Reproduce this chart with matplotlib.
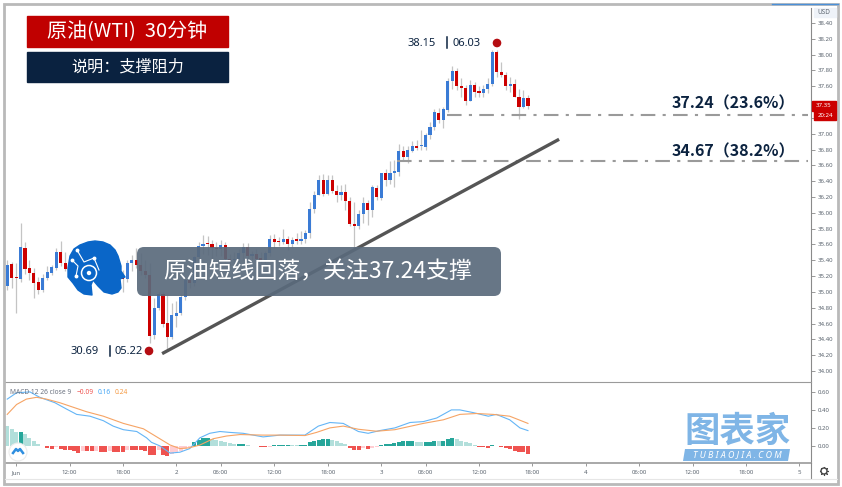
# -*- coding: utf-8 -*-
import numpy as np
import matplotlib
matplotlib.use('Agg')
import matplotlib.pyplot as plt
from matplotlib.patches import Circle, FancyBboxPatch, Polygon, Rectangle

plt.rcParams['font.family'] = ['Noto Sans CJK SC', 'DejaVu Sans']

W, H = 842, 487

# open, high, low, close per 30 minute bar
opens = [35.08, 35.35, 35.18, 35.16, 35.56, 35.30, 35.24, 35.13, 35.03, 35.17, 35.24, 35.30, 35.50, 35.36,
         35.29, 35.27, 35.23, 35.21, 35.32, 35.40, 35.48, 35.42, 35.36, 35.40, 35.30, 35.25, 35.17, 35.16,
         35.37, 35.40, 35.34, 35.26, 35.21, 34.45, 34.80, 34.97, 34.61, 34.43, 34.70, 34.73, 34.94, 35.15,
         35.11, 35.44, 35.58, 35.62, 35.61, 35.55, 35.54, 35.59, 35.42, 35.40, 35.42, 35.49, 35.57, 35.45,
         35.48, 35.42, 35.41, 35.49, 35.67, 35.64, 35.63, 35.67, 35.61, 35.66, 35.65, 35.67, 35.74, 36.05,
         36.23, 36.42, 36.24, 36.42, 36.28, 36.23, 36.26, 36.15, 35.86, 35.83, 35.99, 36.13, 36.03, 36.32,
         36.19, 36.50, 36.42, 36.51, 36.52, 36.78, 36.71, 36.78, 36.85, 36.84, 36.83, 36.98, 37.08, 37.26,
         37.18, 37.30, 37.67, 37.79, 37.61, 37.58, 37.42, 37.62, 37.53, 37.52, 37.56, 37.63, 38.03, 37.78,
         37.74, 37.60, 37.63, 37.47, 37.34, 37.45]
highs = [35.41, 35.38, 35.36, 35.87, 35.63, 35.41, 35.30, 35.19, 35.23, 35.33, 35.34, 35.55, 35.64, 35.51,
         35.40, 35.34, 35.30, 35.35, 35.45, 35.52, 35.55, 35.50, 35.44, 35.46, 35.38, 35.30, 35.28, 35.40,
         35.47, 35.55, 35.49, 35.40, 35.36, 34.92, 35.00, 35.00, 34.96, 34.86, 34.88, 34.98, 35.20, 35.25,
         35.45, 35.63, 35.72, 35.71, 35.66, 35.63, 35.66, 35.63, 35.48, 35.50, 35.54, 35.62, 35.62, 35.52,
         35.54, 35.50, 35.52, 35.72, 35.73, 35.70, 35.79, 35.71, 35.70, 35.75, 35.77, 35.78, 36.14, 36.27,
         36.48, 36.49, 36.48, 36.48, 36.35, 36.35, 36.37, 36.20, 36.14, 36.04, 36.20, 36.16, 36.35, 36.35,
         36.51, 36.56, 36.65, 36.67, 36.87, 36.85, 36.85, 36.91, 36.92, 37.05, 37.01, 37.15, 37.31, 37.32,
         37.34, 37.70, 37.86, 37.83, 37.70, 37.62, 37.68, 37.66, 37.60, 37.62, 37.70, 38.06, 38.06, 37.91,
         37.78, 37.72, 37.69, 37.57, 37.55, 37.49]
lows = [35.02, 35.05, 34.73, 35.13, 35.23, 35.15, 34.92, 34.97, 35.00, 35.15, 35.21, 35.28, 35.33, 35.26,
        35.24, 35.20, 35.16, 35.18, 35.28, 35.36, 35.38, 35.32, 35.28, 35.25, 35.20, 35.10, 35.00, 35.13,
        35.26, 35.30, 35.22, 35.18, 34.35, 34.41, 34.77, 34.56, 34.27, 34.41, 34.56, 34.71, 34.90, 35.05,
        35.08, 35.36, 35.48, 35.47, 35.40, 35.45, 35.45, 35.38, 35.33, 35.35, 35.35, 35.40, 35.42, 35.40,
        35.38, 35.37, 35.36, 35.46, 35.55, 35.58, 35.60, 35.53, 35.55, 35.60, 35.60, 35.62, 35.68, 36.00,
        36.22, 36.21, 36.22, 36.25, 36.14, 36.16, 36.03, 35.83, 35.55, 35.79, 35.87, 35.85, 35.95, 36.16,
        36.16, 36.34, 36.37, 36.33, 36.46, 36.65, 36.63, 36.77, 36.80, 36.79, 36.80, 36.94, 37.05, 37.13,
        37.07, 37.28, 37.57, 37.55, 37.47, 37.36, 37.41, 37.47, 37.46, 37.47, 37.51, 37.60, 37.72, 37.72,
        37.55, 37.53, 37.47, 37.19, 37.32, 37.31]
closes = [35.34, 35.17, 35.17, 35.57, 35.29, 35.24, 35.11, 35.03, 35.18, 35.25, 35.31, 35.51, 35.36, 35.29,
          35.27, 35.23, 35.21, 35.32, 35.40, 35.48, 35.42, 35.36, 35.40, 35.30, 35.25, 35.17, 35.16, 35.37,
          35.40, 35.34, 35.26, 35.21, 34.44, 34.80, 34.97, 34.60, 34.43, 34.71, 34.74, 34.94, 35.15, 35.11,
          35.44, 35.58, 35.61, 35.61, 35.55, 35.54, 35.59, 35.42, 35.39, 35.42, 35.49, 35.57, 35.45, 35.48,
          35.42, 35.41, 35.49, 35.67, 35.63, 35.63, 35.67, 35.61, 35.66, 35.65, 35.67, 35.74, 36.05, 36.23,
          36.42, 36.24, 36.42, 36.28, 36.23, 36.26, 36.15, 35.86, 35.83, 35.99, 36.13, 36.03, 36.33, 36.20,
          36.51, 36.42, 36.51, 36.53, 36.78, 36.71, 36.80, 36.85, 36.82, 36.85, 36.98, 37.08, 37.27, 37.18,
          37.31, 37.67, 37.79, 37.60, 37.58, 37.42, 37.62, 37.53, 37.52, 37.57, 37.63, 38.03, 37.78, 37.74,
          37.60, 37.63, 37.47, 37.34, 37.45, 37.35]

macd_hist = [0.22, 0.19, 0.16, 0.16, 0.13, 0.09, 0.06, 0.02, -0.005, -0.02, -0.03, -0.01, -0.03, -0.04,
             -0.05, -0.06, -0.075, -0.06, -0.06, -0.06, -0.055, -0.065, -0.065, -0.055, -0.07, -0.07, -0.07,
             -0.05, -0.05, -0.05, -0.05, -0.055, -0.10, -0.105, -0.05, -0.10, -0.115, -0.09, -0.07, -0.055,
             -0.03, -0.01, 0.04, 0.07, 0.09, 0.09, 0.08, 0.07, 0.06, 0.045, 0.03, 0.02, 0.02, 0.025, 0.015,
             0.002, -0.005, -0.01, -0.015, -0.01, 0.005, 0.01, 0.01, 0.012, 0.01, 0.005, 0.005, 0.01, 0.04,
             0.055, 0.07, 0.075, 0.08, 0.065, 0.055, 0.035, 0.02, -0.02, -0.04, -0.045, -0.025, -0.035, -0.02,
             -0.015, 0.01, 0.02, 0.025, 0.035, 0.045, 0.05, 0.05, 0.05, 0.045, 0.04, 0.045, 0.045, 0.06, 0.055,
             0.06, 0.08, 0.085, 0.075, 0.06, 0.045, 0.03, 0.01, -0.01, -0.015, -0.02, 0.01, -0.005, -0.01,
             -0.025, -0.035, -0.055, -0.065, -0.07, -0.085]

macd_idx = [0, 2.1, 5.1, 7.3, 10.7, 13.3, 15.6, 18.6, 21.6, 23.8, 26.1, 29.1, 31.3, 32.4, 34.3, 36.6, 38.8,
            41, 43.3, 45.5, 47.8, 50, 53, 57.5, 61.3, 66.9, 69.9, 72.5, 75.5, 78.9, 81.1, 83.7, 87.1, 90.5,
            93.5, 96.5, 99.8, 101.7, 104.7, 108.1, 109.9, 112.9, 115.2, 117]
macd_line = [0.52, 0.59, 0.60, 0.54, 0.48, 0.41, 0.35, 0.33, 0.28, 0.22, 0.18, 0.16, 0.09, 0.04, 0.0, -0.08,
             -0.07, -0.03, 0.09, 0.14, 0.16, 0.15, 0.14, 0.10, 0.12, 0.12, 0.22, 0.26, 0.25, 0.16, 0.14, 0.17,
             0.20, 0.26, 0.27, 0.31, 0.40, 0.40, 0.37, 0.33, 0.35, 0.29, 0.20, 0.17]
signal_idx = [0, 2.1, 4.3, 6.6, 8.8, 11.8, 14.8, 17.8, 21.6, 26.1, 30.6, 33.6, 36.6, 38.8, 41, 43.3, 46.3, 49.3,
              52.3, 57.5, 61.3, 66.9, 69.5, 72.5, 75.5, 78.9, 83, 87.1, 93.5, 98, 101.7, 105.5, 109.2, 112.9, 117]
signal_line = [0.35, 0.46, 0.52, 0.54, 0.52, 0.48, 0.43, 0.38, 0.33, 0.25, 0.19, 0.10, 0.01, -0.03, -0.02, 0.01,
               0.08, 0.11, 0.126, 0.12, 0.12, 0.115, 0.15, 0.20, 0.22, 0.185, 0.163, 0.18, 0.25, 0.29, 0.35,
               0.36, 0.35, 0.33, 0.25]

time_ticks = [2, 14, 26, 38, 48, 60, 72, 84, 94, 106, 118, 130, 142, 154, 166, 178]
time_labels = ['Jun', '12:00', '18:00', '2', '06:00', '12:00', '18:00', '3', '06:00', '12:00', '18:00',
               '4', '06:00', '12:00', '18:00', '5']
price_ticks = np.arange(34.0, 38.5, 0.2)
hidden_ticks = ['37.40', '37.20']  # covered by the price tags
macd_ticks = [0.0, 0.2, 0.4, 0.6]

trend_x = [34.8, 124.0]
trend_y = [34.22, 36.93]
level_x = [[98.8, 180.0], [87.6, 180.0]]
level_y = [37.24, 36.66]
level_text = ['37.24（23.6%）', '34.67（38.2%）']

BLUE = '#3a7bd5'
RED = '#cc0000'
TICK = '#5d6670'
NAVY = '#0c2340'


def px_axes(fig, left, top, right, bottom):
    return fig.add_axes([left / W, 1 - bottom / H, (right - left) / W, (bottom - top) / H])


fig = plt.figure(figsize=(W / 100, H / 100), dpi=100)

x0 = -0.5
x1 = 180.6

# price pane
ax = px_axes(fig, 5, 8, 811, 381)
ax.set_xlim(x0, x1)
ax.set_ylim(33.874, 38.59)
idx = np.arange(len(opens))
o = np.array(opens)
c = np.array(closes)
colors = [BLUE if cl >= op else RED for op, cl in zip(opens, closes)]
ax.vlines(idx, lows, highs, color='#c4c4c4', lw=0.9, zorder=2)
ax.bar(idx, np.maximum(np.abs(c - o), 0.015), bottom=np.minimum(o, c), width=0.7, color=colors, zorder=3)
ax.plot(trend_x, trend_y, color='#555555', lw=2.4, solid_capstyle='butt', zorder=6)
for xs, lev in zip(level_x, level_y):
    ax.plot(xs, [lev, lev], color='#9a9a9a', lw=1.5, ls=(0, (7, 3.5, 1.5, 3.5)), zorder=4)
ax.set_xticks([])
ax.set_yticks(price_ticks)
price_labels = [f'{t:.2f}' for t in price_ticks]
price_labels = ['' if t in hidden_ticks else t for t in price_labels]
ax.set_yticklabels(price_labels, fontsize=4.4, color=TICK, family=['Noto Sans'])
ax.yaxis.tick_right()
ax.tick_params(axis='y', length=3, width=0.6, color='#888888', pad=1.5)
for s in ['top', 'left', 'bottom']:
    ax.spines[s].set_visible(False)
ax.spines['right'].set_color('#8a8a8a')

# macd pane
ax2 = px_axes(fig, 5, 382, 811, 463)
ax2.set_xlim(x0, x1)
ax2.set_ylim(-0.19, 0.71)
hist_colors = []
prev = 1
for v in macd_hist:
    if v >= 0:
        hist_colors.append('#26a69a' if v >= prev else '#b2dfdb')
    else:
        hist_colors.append('#ef5350' if v <= prev else '#ffcdd2')
    prev = v
ax2.bar(np.arange(len(macd_hist)), macd_hist, width=0.9, color=hist_colors, zorder=2)
ax2.plot(macd_idx, macd_line, color='#64b5f6', lw=0.8, zorder=3)
ax2.plot(signal_idx, signal_line, color='#f6a465', lw=0.8, zorder=3)
ax2.set_xticks(time_ticks)
ax2.set_xticklabels(time_labels, fontsize=4.4, color=TICK, family=['Noto Sans'])
ax2.set_yticks(macd_ticks)
ax2.set_yticklabels([f'{t:.2f}' for t in macd_ticks], fontsize=4.4, color=TICK, family=['Noto Sans'])
ax2.yaxis.tick_right()
ax2.tick_params(axis='y', length=3, width=0.6, color='#888888', pad=1.5)
ax2.tick_params(axis='x', length=2, width=0.6, color='#888888', pad=3)
ax2.spines['left'].set_visible(False)
ax2.spines['right'].set_color('#8a8a8a')
ax2.spines['top'].set_color('#9a9a9a')
ax2.spines['bottom'].set_color('#9a9a9a')
ax2.spines['bottom'].set_linewidth(1.2)

# everything drawn on top of the chart, in pixels
top = fig.add_axes([0, 0, 1, 1], facecolor='none')
top.set_xlim(0, W)
top.set_ylim(H, 0)
top.axis('off')

# outer frame
top.add_patch(Rectangle((3.5, 3.5), 834, 480, fill=False, ec='#b9b9b9', lw=2.0))
top.plot([772, 838], [3.5, 3.5], color='#4a90d9', lw=1.0)
top.plot([811, 811], [463, 478], color='#8a8a8a', lw=0.8)
top.plot([5, 837], [478.5, 478.5], color='#e6e6e6', lw=0.8)

# title boxes
top.add_patch(Rectangle((27, 16), 201, 31, color='#c00000'))
top.text(127, 31.5, '原油(WTI)  30分钟', color='white', fontsize=14.4, ha='center', va='center')
top.add_patch(Rectangle((27, 52), 201, 30, color='#0a2240'))
top.text(128, 67, '说明：支撑阻力', color='white', fontsize=11.6, ha='center', va='center')

# comment box
top.add_patch(FancyBboxPatch((143, 253), 352, 37, boxstyle='round,pad=6,rounding_size=7',
                             fc='#5a6a7c', ec='none', alpha=0.92))
top.text(318, 272, '原油短线回落，关注37.24支撑', color='white', fontsize=16.5, ha='center', va='center')

# high and low markers
top.add_patch(Circle((149, 351), 3.6, color='#b50d12', zorder=8))
top.add_patch(Circle((497, 43), 3.6, color='#b50d12', zorder=8))
top.text(84.5, 351, '30.69', color=NAVY, fontsize=8, ha='center', va='center', family=['Noto Sans'])
top.plot([110, 110], [346, 356], color=NAVY, lw=1.1)
top.text(129, 351, '05.22', color=NAVY, fontsize=8, ha='center', va='center', family=['Noto Sans'])
top.text(421.5, 43, '38.15', color=NAVY, fontsize=8, ha='center', va='center', family=['Noto Sans'])
top.plot([447, 447], [37, 48], color=NAVY, lw=1.1)
top.text(466.5, 43, '06.03', color=NAVY, fontsize=8, ha='center', va='center', family=['Noto Sans'])

# level labels
for yy, txt in zip([103, 151], level_text):
    top.text(733, yy, txt, color=NAVY, fontsize=11.5, fontweight='bold', ha='center', va='center')

# head logo
head = [(68, 268), (70, 256), (74, 249), (80, 245), (88, 242), (95, 241), (103, 242), (110, 245), (115, 250),
        (118, 256), (121, 266), (121, 271), (125, 277), (120, 279), (121, 288), (118, 292), (112, 294), (104, 292),
        (98, 286), (93, 280), (91, 285), (92, 295), (84, 294), (78, 290), (73, 283), (68, 277)]
top.add_patch(Polygon(head, closed=True, fc='#0a66c8', ec='#0a66c8', lw=1, joinstyle='round', zorder=7))
top.add_patch(Circle((89, 273), 7.5, fc='none', ec='white', lw=1.1, zorder=8))
top.add_patch(Circle((89, 273), 2.2, fc='white', ec='none', zorder=8))
top.plot([77, 84, 94, 99], [250, 262, 258, 270], color='white', lw=0.8, zorder=8)
top.plot([72, 78, 76], [260, 266, 276], color='white', lw=0.8, zorder=8)
top.plot([77, 72, 76, 94], [250, 260, 276, 258], 'o', color='white', ms=1.8, zorder=8)

# macd legend
top.text(10, 392, 'MACD 12 26 close 9', color='#6b7280', fontsize=4.8, va='center', family=['Noto Sans'])
top.text(77, 392, '\u22120.09', color='#ef5350', fontsize=4.8, va='center', family=['Noto Sans'])
top.text(98, 392, '0.16', color='#42a5f5', fontsize=4.8, va='center', family=['Noto Sans'])
top.text(115, 392, '0.24', color='#f59b45', fontsize=4.8, va='center', family=['Noto Sans'])

# cloud badge
top.add_patch(Circle((18, 452), 9, fc='white', ec='#ececec', lw=0.8, zorder=8))
top.plot([13, 16, 18, 20, 23], [453, 449, 451, 449, 453], color='#2f8fe0', lw=1.8, zorder=9)

# price tags
top.add_patch(Rectangle((812, 101), 24, 9.5, color='#cc0000', zorder=8))
top.text(824, 105.8, '37.35', color='white', fontsize=4.4, ha='center', va='center', family=['Noto Sans'], zorder=9)
top.add_patch(Rectangle((814, 110.5), 22, 9.5, color='#cc0000', zorder=8))
top.text(825, 115.3, '20:24', color='white', fontsize=4.4, ha='center', va='center', family=['Noto Sans'], zorder=9)
top.add_patch(Rectangle((814, 8), 22, 9, color='#eef2f8', zorder=8))
top.text(824, 12.5, 'USD', color=TICK, fontsize=4.6, ha='center', va='center', family=['Noto Sans'], zorder=9)

# gear
top.plot([824], [471], marker=(8, 2, 0), ms=6.5, mew=0.8, color='#444444', zorder=8)
top.add_patch(Circle((824, 471), 3, fc='white', ec='#444444', lw=1.0, zorder=9))

# watermark
wm = '#7fb5e6'
top.text(737.5, 431, '图表家', color=wm, fontsize=25.5, fontweight='bold', ha='center', va='center', zorder=9)
top.add_patch(Polygon([(685, 449), (790, 449), (788, 461), (683, 461)], closed=True, fc=wm, ec='none', zorder=9))
top.text(737, 455, 'T U B I A O J I A . C O M', color='white', fontsize=6.4, style='italic',
         ha='center', va='center', family=['Noto Sans'], zorder=10)

fig.savefig('out.png', dpi=100)
